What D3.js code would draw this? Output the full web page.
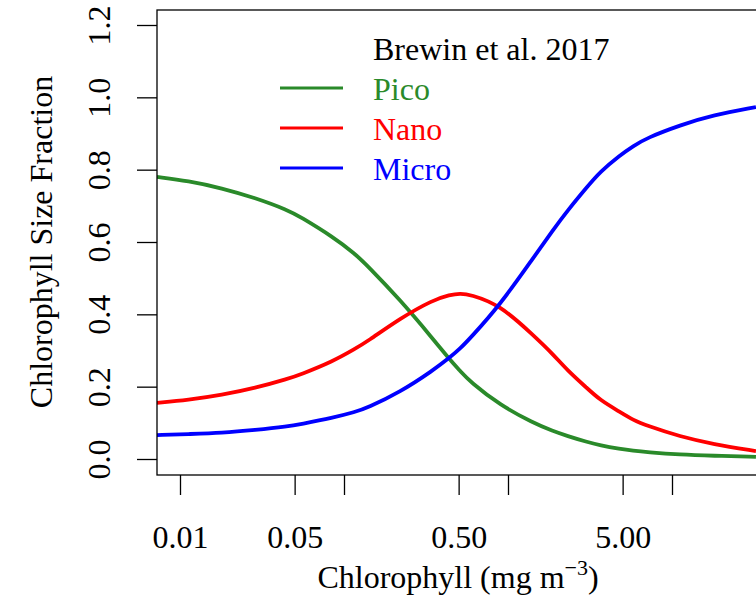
<!DOCTYPE html>
<html>
<head>
<meta charset="utf-8">
<script src="https://cdn.jsdelivr.net/npm/d3@7"></script>
<style>
  body { margin: 0; background: #fff; }
  svg text { font-family: "Liberation Serif", "Times New Roman", serif; }
</style>
</head>
<body>
<div class="chart"></div>
<script>
// chlorophyll (mg m^-3) where the curves were read
const chl = [0.00724, 0.0112, 0.0180, 0.0287, 0.0456, 0.0539, 0.0857, 0.117, 0.138, 0.220, 0.349, 0.443, 0.510,
    0.586, 0.894, 1.421, 1.881, 2.289, 3.031, 3.639, 4.819, 5.783, 7.041, 11.19, 17.78, 32.5];
const pico = [0.780, 0.769, 0.749, 0.722, 0.688, 0.670, 0.614, 0.567, 0.536, 0.440, 0.332, 0.274, 0.244,
    0.214, 0.149, 0.100, 0.077, 0.064, 0.047, 0.038, 0.028, 0.023, 0.019, 0.012, 0.009, 0.006];
const nano = [0.155, 0.163, 0.177, 0.196, 0.222, 0.233, 0.270, 0.305, 0.324, 0.389, 0.440, 0.454, 0.458,
    0.455, 0.426, 0.343, 0.290, 0.246, 0.196, 0.163, 0.130, 0.108, 0.092, 0.062, 0.041, 0.022];
const micro = [0.066, 0.069, 0.072, 0.080, 0.090, 0.096, 0.114, 0.130, 0.141, 0.185, 0.245, 0.281, 0.305,
    0.333, 0.426, 0.555, 0.633, 0.685, 0.752, 0.794, 0.840, 0.865, 0.888, 0.923, 0.951, 0.973];

const seriesNames = ['Pico', 'Nano', 'Micro'];
const seriesColors = ['#2a8a2a', '#ff0000', '#0000ff'];
const xTicks = [0.01, 0.05, 0.1, 0.5, 1, 5, 10];
const xTickLabels = ['0.01', '0.05', '', '0.50', '', '5.00', ''];
const yTicks = [0, 0.2, 0.4, 0.6, 0.8, 1.0, 1.2];
const yTickLabels = ['0.0', '0.2', '0.4', '0.6', '0.8', '1.0', '1.2'];
const legendTitle = 'Brewin et al. 2017';

const width = 756;
const height = 597;
const box = { left: 157, top: 10, right: 759, bottom: 475 };

const svg = d3.select('.chart')
    .append('svg')
    .attr('width', width)
    .attr('height', height)

const x = d3.scaleLog().domain([0.01, 10]).range([180, 672]);
const y = d3.scaleLinear().domain([0, 1.2]).range([459, 25]);

svg.append('defs').append('clipPath')
    .attr('id', 'plot-clip')
    .append('rect')
    .attr('x', box.left)
    .attr('y', box.top)
    .attr('width', box.right - box.left)
    .attr('height', box.bottom - box.top)

// curves
const line = d3.line()
    .x(d => x(d[0]))
    .y(d => y(d[1]))
    .curve(d3.curveBasis)

const series = [pico, nano, micro];
svg.append('g')
    .attr('clip-path', 'url(#plot-clip)')
    .selectAll('path')
    .data(series)
    .enter()
    .append('path')
    .attr('d', vals => line(chl.map((c, i) => [c, vals[i]])))
    .attr('fill', 'none')
    .attr('stroke', (d, i) => seriesColors[i])
    .attr('stroke-width', 3.8)
    .attr('stroke-linejoin', 'round')

// box
svg.append('rect')
    .attr('x', box.left)
    .attr('y', box.top)
    .attr('width', box.right - box.left)
    .attr('height', box.bottom - box.top)
    .attr('fill', 'none')
    .attr('stroke', '#000')
    .attr('stroke-width', 1.3)

// x axis
const xAxis = svg.append('g')
    .attr('transform', `translate(0,${box.bottom})`)
    .call(d3.axisBottom(x)
        .tickValues(xTicks)
        .tickFormat((d, i) => xTickLabels[i])
        .tickSize(20))
xAxis.select('.domain').remove();
xAxis.selectAll('line').attr('stroke', '#000').attr('stroke-width', 1.3);
xAxis.selectAll('text')
    .attr('y', 73)
    .attr('dy', 0)
    .attr('fill', '#000')
    .attr('font-size', 32)

// y axis
const yAxis = svg.append('g')
    .attr('transform', `translate(${box.left},0)`)
    .call(d3.axisLeft(y)
        .tickValues(yTicks)
        .tickFormat((d, i) => yTickLabels[i])
        .tickSize(20))
yAxis.select('.domain').remove();
yAxis.selectAll('line').attr('stroke', '#000').attr('stroke-width', 1.3);
yAxis.selectAll('text')
    .attr('x', 0)
    .attr('dy', 0)
    .attr('transform', 'translate(-47,0) rotate(-90)')
    .attr('text-anchor', 'middle')
    .attr('fill', '#000')
    .attr('font-size', 32)

// axis titles
const xTitle = svg.append('text')
    .attr('x', 458)
    .attr('y', 588)
    .attr('text-anchor', 'middle')
    .attr('font-size', 32)
xTitle.append('tspan').text('Chlorophyll (mg m');
xTitle.append('tspan').attr('font-size', 22).attr('dy', -13).text('\u22123');
xTitle.append('tspan').attr('dy', 13).text(')');

svg.append('text')
    .attr('transform', 'translate(52,242) rotate(-90)')
    .attr('text-anchor', 'middle')
    .attr('font-size', 32)
    .text('Chlorophyll Size Fraction')

// legend
svg.append('text')
    .attr('x', 373)
    .attr('y', 60)
    .attr('font-size', 32)
    .text(legendTitle)

const legend = svg.selectAll('.legend-row')
    .data(seriesNames)
    .enter()
    .append('g')
    .attr('transform', (d, i) => `translate(0,${88 + i * 40})`)
legend.append('line')
    .attr('x1', 280)
    .attr('x2', 343)
    .attr('stroke', (d, i) => seriesColors[i])
    .attr('stroke-width', 3.2)
legend.append('text')
    .attr('x', 373)
    .attr('y', 12)
    .attr('font-size', 32)
    .attr('fill', (d, i) => seriesColors[i])
    .text(d => d)
</script>
</body>
</html>
